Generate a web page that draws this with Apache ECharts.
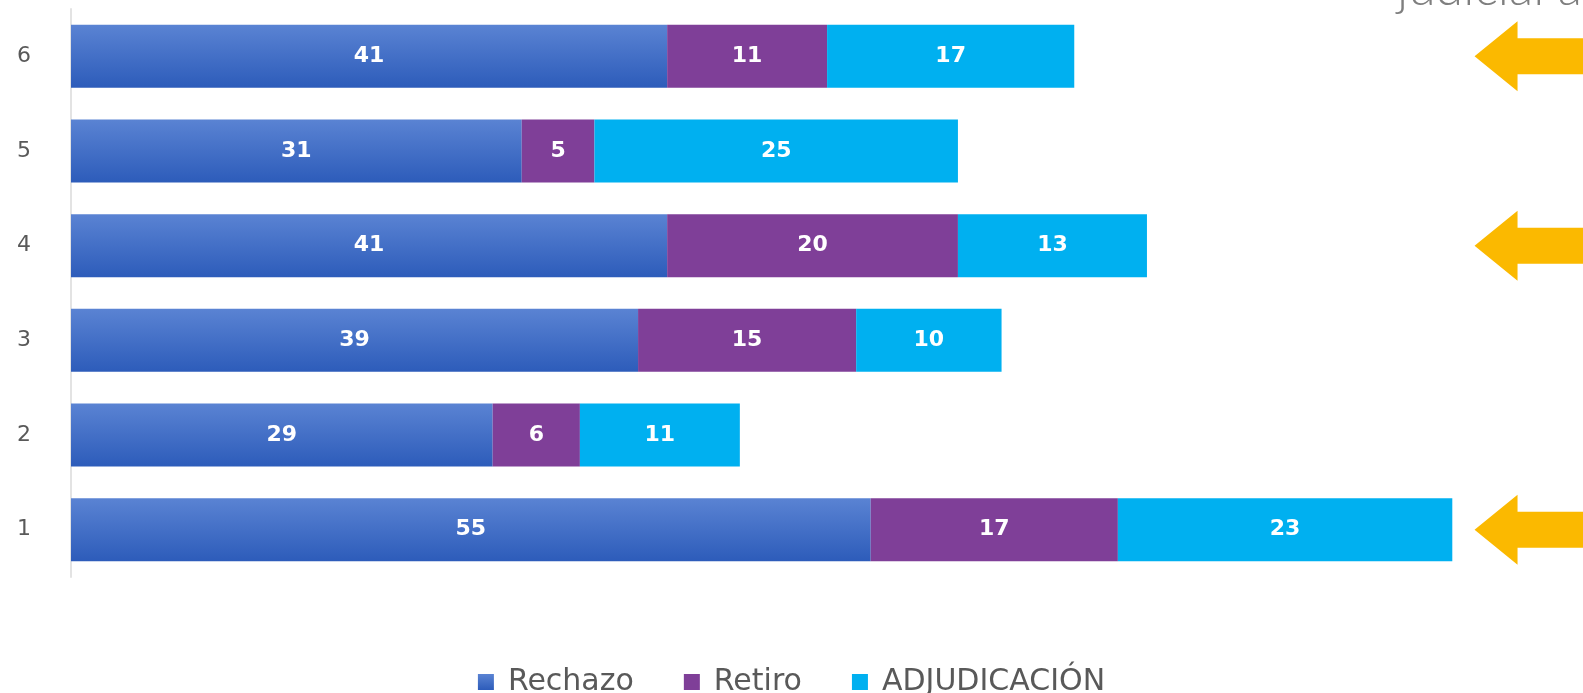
<!DOCTYPE html>
<html>
<head>
<meta charset="utf-8">
<script src="https://cdn.jsdelivr.net/npm/echarts@6/dist/echarts.min.js"></script>
<style>
html,body{margin:0;padding:0;background:#fff;}
#chart{width:1583px;height:693px;}
</style>
</head>
<body>
<div id="chart"></div>
<script>
var categories = ['1', '2', '3', '4', '5', '6'];
var rechazo = [55, 29, 39, 41, 31, 41];
var retiro = [17, 6, 15, 20, 5, 11];
var adjudicacion = [23, 11, 10, 13, 25, 17];
// rows marked with an arrow on the right
var arrowRows = ['1', '4', '6'];
var arrowX = 101;

var chart = echarts.init(document.getElementById('chart'));

var labelStyle = {
	show: true,
	position: 'inside',
	color: '#fff',
	fontFamily: 'DejaVu Sans',
	fontWeight: 'bold',
	fontSize: 22
};

var arrowPath = 'path://M0,35 L43,0 L43,17 L130,17 L130,53 L43,53 L43,70 Z';

var option = {
	animation: false,
	grid: {left: 71, top: 9, width: 1454, height: 568, containLabel: false},
	xAxis: {
		type: 'value',
		min: 0,
		max: 100,
		show: false
	},
	yAxis: {
		type: 'category',
		data: categories,
		axisLine: {show: true, lineStyle: {color: '#e3e3e3', width: 2}},
		axisTick: {show: false},
		axisLabel: {color: '#595959', fontFamily: 'DejaVu Sans', fontSize: 22, margin: 40}
	},
	legend: {
		top: 662,
		left: 'center',
		itemWidth: 16,
		itemHeight: 16,
		itemGap: 50,
		icon: 'rect',
		textStyle: {color: '#595959', fontFamily: 'DejaVu Sans', fontSize: 30, padding: [0, 0, 0, 9]},
		data: ['Rechazo', 'Retiro', 'ADJUDICACIÓN']
	},
	graphic: [{
		type: 'text',
		left: 1397,
		top: -36,
		style: {text: 'judicial a', fill: '#7f7f7f', fontFamily: 'Lato', fontWeight: 300, fontSize: 50}
	}],
	series: [
		{
			name: 'Rechazo',
			type: 'bar',
			stack: 'total',
			barWidth: 63,
			itemStyle: {
				color: new echarts.graphic.LinearGradient(0, 0, 0, 1, [
					{offset: 0, color: '#5a83d3'},
					{offset: 1, color: '#2d5cba'}
				])
			},
			label: labelStyle,
			data: rechazo
		},
		{
			name: 'Retiro',
			type: 'bar',
			stack: 'total',
			itemStyle: {color: '#7f3f98'},
			label: labelStyle,
			data: retiro
		},
		{
			name: 'ADJUDICACIÓN',
			type: 'bar',
			stack: 'total',
			itemStyle: {color: '#00b0f0'},
			label: labelStyle,
			data: adjudicacion
		},
		{
			type: 'scatter',
			symbol: arrowPath,
			symbolSize: [130, 70],
			symbolKeepAspect: false,
			itemStyle: {color: '#fbb900', opacity: 1},
			clip: false,
			silent: true,
			data: arrowRows.map(function (r) { return [arrowX, r]; })
		}
	]
};
chart.setOption(option);
</script>
</body>
</html>
